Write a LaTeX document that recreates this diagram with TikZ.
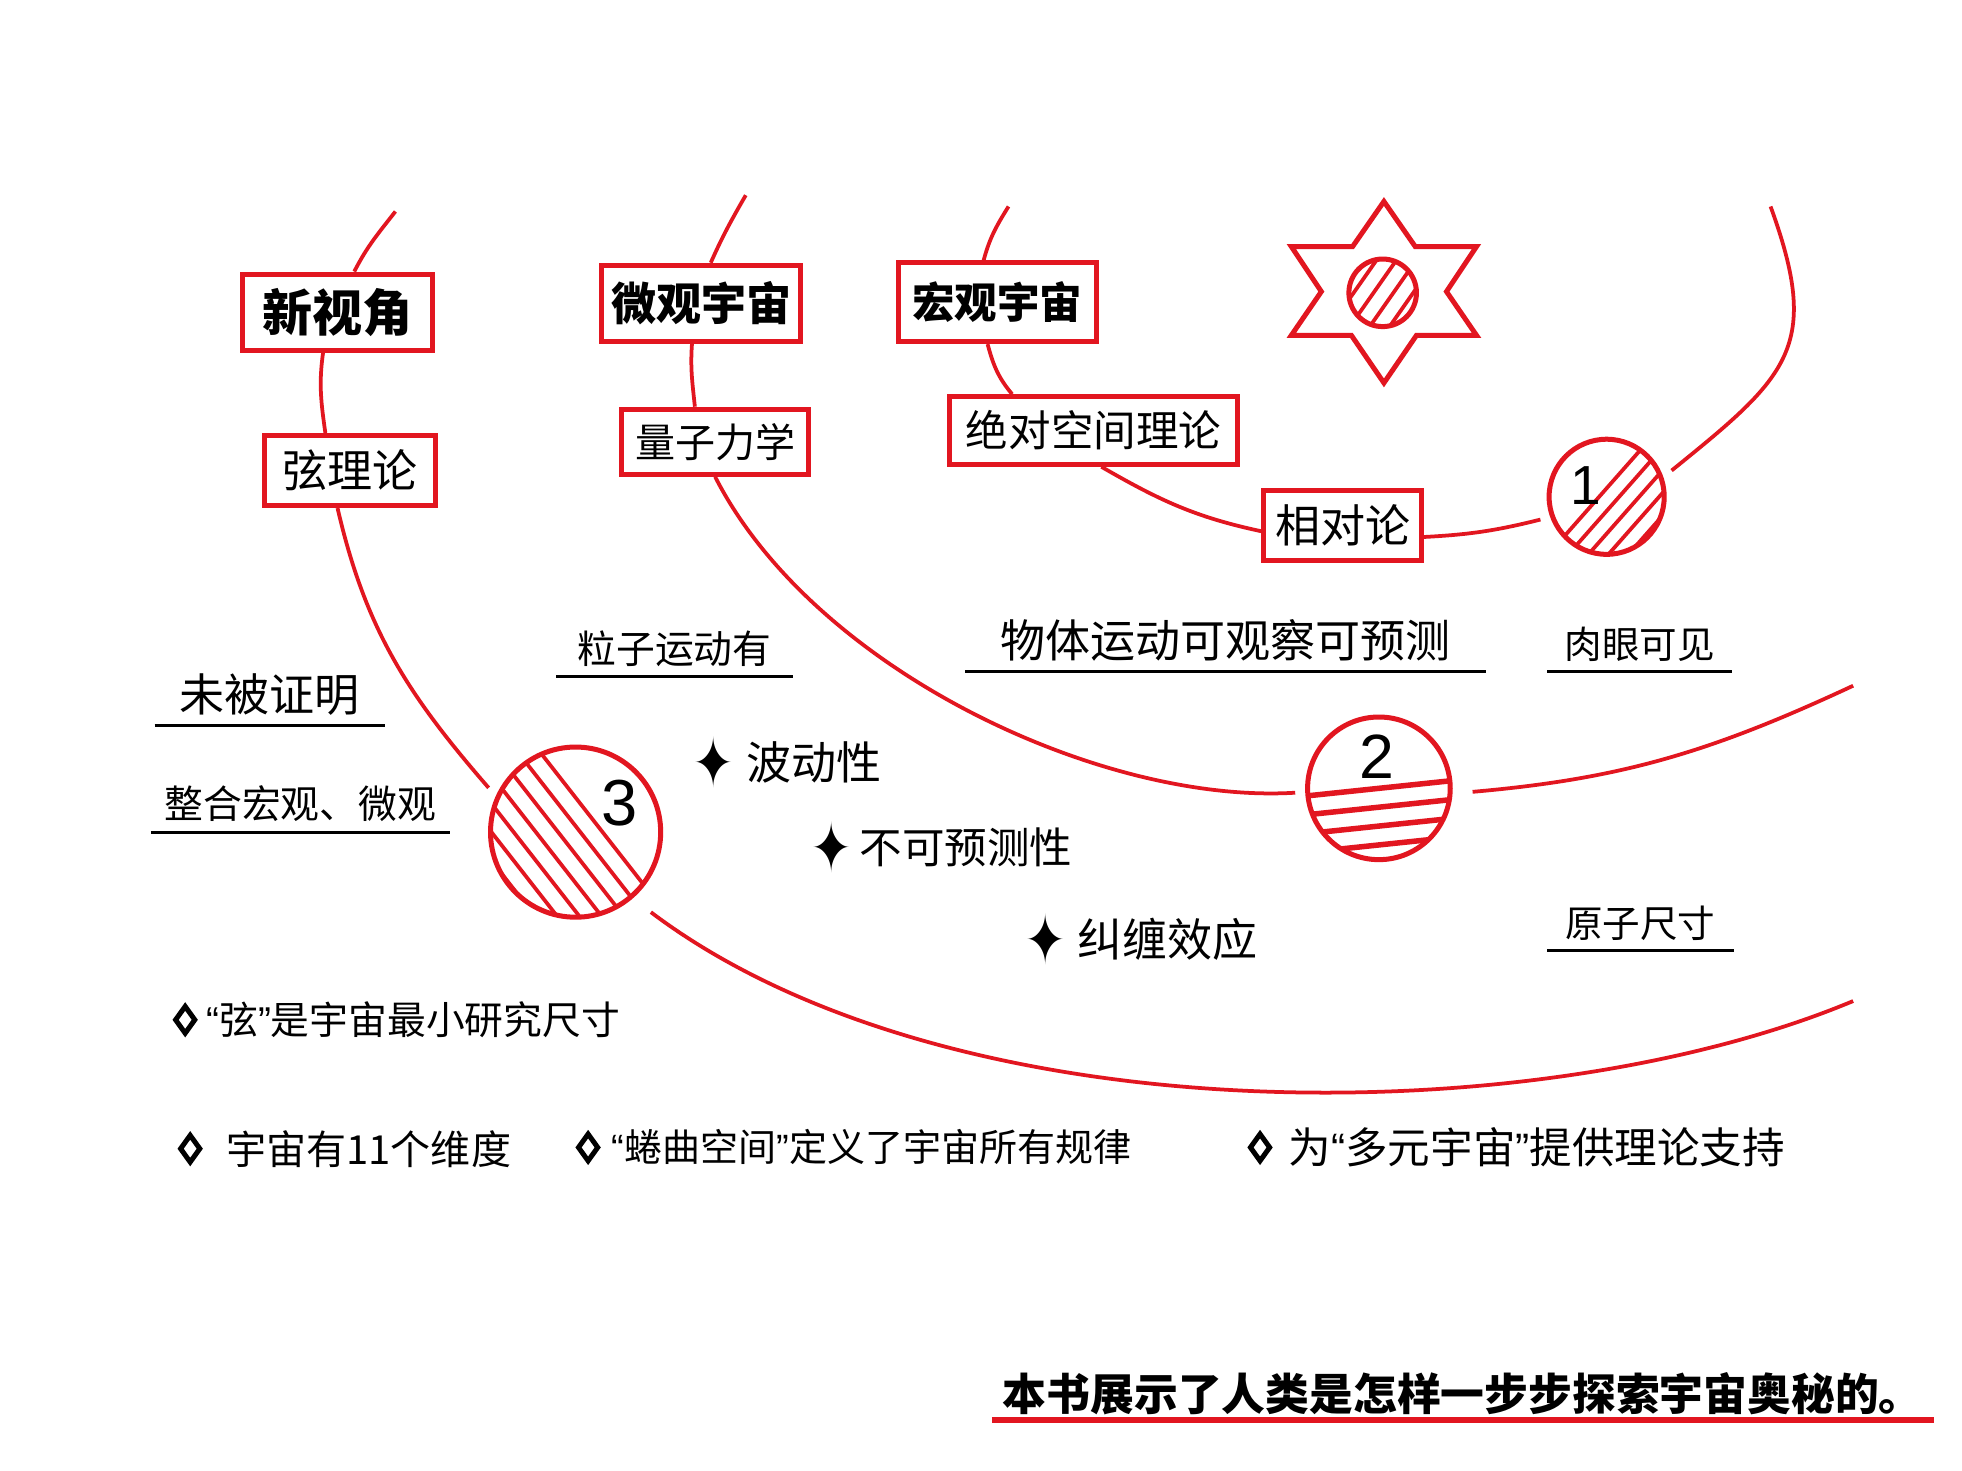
\documentclass[tikz,border=0pt]{standalone}
\usepackage{fontspec}
\usepackage{graphicx}
\usetikzlibrary{positioning,shapes.geometric}
\newfontfamily\cjk{Noto Sans CJK SC}
\newfontfamily\numf{Liberation Sans}
\newfontfamily\symf{DejaVu Sans}
\newcommand\fsz[1]{\fontsize{#1}{#1}\selectfont}
\newcommand\oq{{\numf “}}
\newcommand\cq{{\numf ”}}
\definecolor{redl}{RGB}{226,22,32}

\tikzset{
  tbox/.style={draw=redl, line width=2pt, fill=white, inner sep=0pt},
  ring/.style={circle, draw=redl, line width=2pt, fill=white, inner sep=0pt, outer sep=5pt},
  hatch/.style={draw=redl, line width=1.5pt},
  orbit/.style={draw=redl, line width=1.5pt},
  lab/.style={font=\cjk\fsz{15}, inner xsep=0pt, inner ysep=4pt, anchor=south},
  uline/.style={draw=black, line width=1.2pt},
  dia/.style={diamond, draw=black, line width=2pt, minimum width=8.5pt, minimum height=11.5pt, inner sep=0pt},
  spark/.style={font=\symf\fsz{24}, inner sep=0pt},
  item/.style={font=\cjk\fsz{16}, inner sep=0pt}
}

\begin{document}
\begin{tikzpicture}[x=0.5pt, y=0.5pt]
        \fill[white] (0,0) rectangle (1568,-1175);
        \useasboundingbox (0,0) rectangle (1568,-1175);

        % loose ends of the three orbits
        \coordinate (aTop) at (316,-169);
        \coordinate (aEnd) at (1481,-800);
        \coordinate (bTop) at (596,-156);
        \coordinate (bEnd) at (1481,-548);
        \coordinate (cTop) at (806,-165);
        \coordinate (cEnd) at (1415,-165);

        \begin{scope}[every node/.style={tbox}]
            \node[font=\cjk\bfseries\fsz{20}, minimum width=76pt, minimum height=30.5pt] (xin) at (270,-249.5) {新视角};
            \node[font=\cjk\fsz{18}, minimum width=68.5pt, minimum height=28pt] (xian) at (279.5,-376) {弦理论};
            \node[font=\cjk\bfseries\fsz{18}, minimum width=79.5pt, minimum height=30.5pt] (weiguan) at (560.5,-242.5) {微观宇宙};
            \node[font=\cjk\fsz{16}, minimum width=74.5pt, minimum height=26pt] (liangzi) at (571.5,-353) {量子力学};
            \node[font=\cjk\bfseries\fsz{17}, minimum width=79pt, minimum height=31.5pt] (hongguan) at (797,-241.5) {宏观宇宙};
            \node[font=\cjk\fsz{17}, minimum width=115pt, minimum height=27pt] (juedui) at (874,-344) {绝对空间理论};
            \node[font=\cjk\fsz{18}, minimum width=63pt, minimum height=28pt] (xiangdui) at (1073,-420) {相对论};
        \end{scope}

        % the star
        \draw[redl, line width=2pt, line join=miter] (1106,-161) -- (1131,-197) -- (1180,-197) -- (1156,-233)
            -- (1180,-268) -- (1132,-268) -- (1106,-306) -- (1080,-268) -- (1032,-268) -- (1056,-233)
            -- (1032,-197) -- (1081,-197) -- cycle;

        \begin{scope}[every node/.style={ring}]
            \node[minimum size=46pt] (c1) at (1284,-397) {};
            \node[minimum size=57pt] (c2) at (1102,-630) {};
            \node[minimum size=68pt] (c3) at (460,-665) {};
            \node[minimum size=27pt] (sun) at (1105,-234) {};
        \end{scope}

        \begin{scope}
            \clip (c1.center) circle[radius=46];
            \foreach \d in {-4.5,7.5,...,43.5}
                \draw[hatch] ([shift={(-41.4:\d)}]c1.center) ++(48.6:80) -- ++(228.6:160);
        \end{scope}
        \begin{scope}
            \clip (c2.center) circle[radius=57];
            \foreach \d in {0,15,30,45}
                \draw[hatch, line width=2.2pt] ([shift={(-84:\d)}]c2.center) ++(6:80) -- ++(186:160);
        \end{scope}
        \begin{scope}
            \clip (c3.center) circle[radius=68];
            \foreach \d in {17,3,...,-67}
                \draw[hatch] ([shift={(38:\d)}]c3.center) ++(128:100) -- ++(-52:200);
        \end{scope}
        \begin{scope}
            \clip (sun.center) circle[radius=27];
            \foreach \d in {-19,-6,7,20}
                \draw[hatch] ([shift={(-35:\d)}]sun.center) ++(55:50) -- ++(235:100);
        \end{scope}

        \node[font=\numf\fsz{22}, inner sep=0pt] (n1) at (1267,-388) {1};
        \node[font=\numf\fsz{25}, inner sep=0pt] (n2) at (1100,-605) {2};
        \node[font=\numf\fsz{26}, inner sep=0pt] (n3) at (495,-642) {3};

        \begin{scope}[every edge/.style={orbit}]
            \path (aTop) edge[out=232, in=63] (xin.68);
            \path (xin.250) edge[out=262, in=98] (xian.123);
            \path (xian.252) edge[out=283, in=131] (c3.153);

            \path (bTop) edge[out=240, in=66] (weiguan.77);
            \path (weiguan.257) edge[out=266, in=96] (liangzi.120);
            \path[shorten <=4pt] (c2.357) edge[out=5, in=205] (bEnd);

            \path (cTop) edge[out=238, in=75] (hongguan.108);
            \path (hongguan.257) edge[out=285, in=130] (juedui.156);
            \path (juedui.282) edge[out=-30, in=168] (xiangdui.184);
            \path (xiangdui.352) edge[out=3, in=194] (c1.199);
        \end{scope}
        \draw[orbit] (liangzi.270) .. controls (650,-535) and (880,-643) .. (c2.183);
        \draw[orbit, shorten <=5pt] (c3.312) .. controls (760,-910) and (1230,-905) .. (aEnd);
        \draw[orbit] (c1.22) .. controls +(39:120) and +(290:120) .. (cEnd);

        % underlined notes
        \node[lab, font=\cjk\fsz{15.5}, minimum width=94pt] (lizi) at (539,-541) {粒子运动有};
        \node[lab, font=\cjk\fsz{18}, minimum width=207.5pt] (wuti) at (979.5,-537) {物体运动可观察可预测};
        \node[lab, font=\cjk\fsz{15}, minimum width=73.5pt] (rouyan) at (1310.5,-537) {肉眼可见};
        \node[lab, font=\cjk\fsz{18}, minimum width=91.5pt] (weibei) at (215.5,-580) {未被证明};
        \node[lab, font=\cjk\fsz{15.5}, minimum width=119pt] (zhenghe) at (240,-665) {整合宏观、微观};
        \node[lab, font=\cjk\fsz{15}, minimum width=74pt] (yuanzi) at (1311,-760) {原子尺寸};
        \foreach \n in {lizi,wuti,rouyan,weibei,zhenghe,yuanzi}
            \draw[uline] (\n.south west) -- (\n.south east);

        % quantum features
        \node[spark] (s1) at (570,-609) {\scalebox{0.8}[1.15]{✦}};
        \node[item, font=\cjk\fsz{18}, right=5pt of s1] (bo) {波动性};
        \node[spark] (s2) at (665,-677) {\scalebox{0.8}[1.15]{✦}};
        \node[item, font=\cjk\fsz{17}, right=2.5pt of s2] (buke) {不可预测性};
        \node[spark] (s3) at (836,-751) {\scalebox{0.8}[1.15]{✦}};
        \node[item, font=\cjk\fsz{18}, right=4pt of s3] (jiuchan) {纠缠效应};

        % string theory points
        \node[dia] (d1) at (148,-815) {};
        \node[item, font=\cjk\fsz{15.5}, right=3pt of d1] (t1) {\oq 弦\cq 是宇宙最小研究尺寸};
        \node[dia] (d2) at (152,-918) {};
        \node[item, right=9pt of d2] (t2) {宇宙有11个维度};
        \node[dia] (d3) at (470,-917) {};
        \node[item, font=\cjk\fsz{15.2}, right=4pt of d3] (t3) {\oq 蜷曲空间\cq 定义了宇宙所有规律};
        \node[dia] (d4) at (1007,-917) {};
        \node[item, font=\cjk\fsz{17}, right=6pt of d4] (t4) {为\oq 多元宇宙\cq 提供理论支持};

        \node[font=\cjk\bfseries\fsz{17.5}, inner xsep=0pt, inner ysep=2pt, anchor=south, minimum width=376pt] (summary) at (1169,-1135) {本书展示了人类是怎样一步步探索宇宙奥秘的。};
        \draw[redl, line width=2.5pt] (summary.south west) -- (summary.south east);
\end{tikzpicture}
\end{document}
